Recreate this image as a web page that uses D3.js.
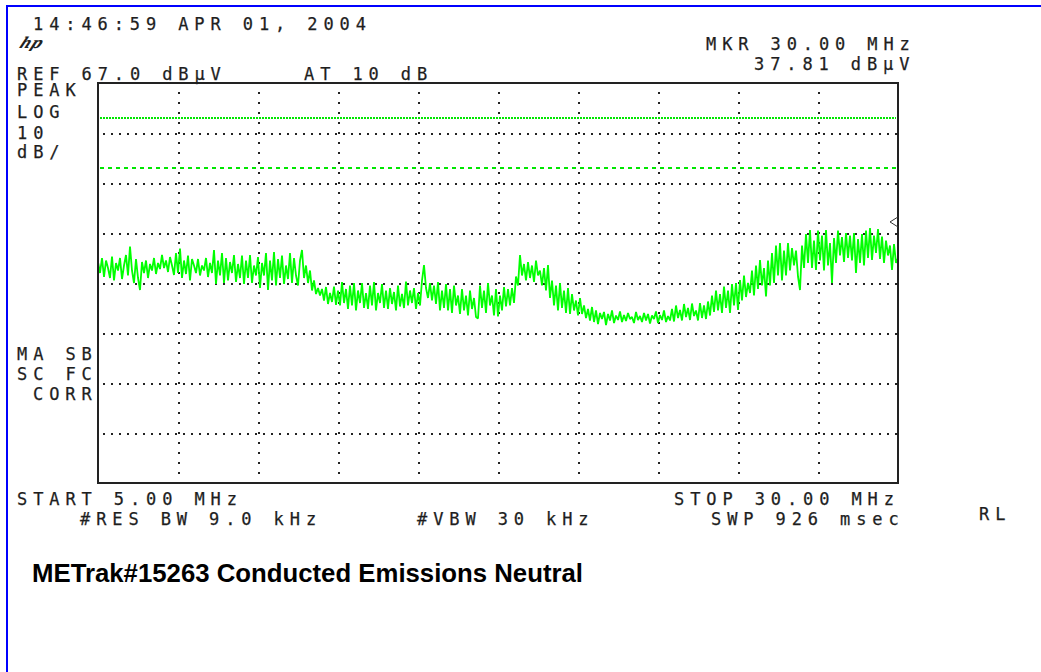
<!DOCTYPE html>
<html>
<head>
<meta charset="utf-8">
<script src="https://cdn.jsdelivr.net/npm/d3@7"></script>
<style>
  body { margin: 0; background: #fff; }
  .hp-text {
    font-family: "DejaVu Sans Mono", monospace;
    font-size: 17px;
    letter-spacing: 5.9px;
    fill: #1e1e1e;
    stroke: #1e1e1e;
    stroke-width: 0.25px;
  }
  .title {
    font-family: "Liberation Sans", Arial, sans-serif;
    font-weight: bold;
    font-size: 25.5px;
    fill: #000;
  }
</style>
</head>
<body>
<svg id="chart" width="1041" height="672"></svg>
<script>
// sweep settings
const startMHz = 5;
const stopMHz = 30;
const refLevel = 67;
const dbPerDiv = 10;
const vDivs = 8;

const freqTicks = [5, 7.5, 10, 12.5, 15, 17.5, 20, 22.5, 25, 27.5, 30];
const levelTicks = [67, 57, 47, 37, 27, 17, 7, -3, -13];

// EN55022 class B limits (quasi-peak / average)
const limitLines = [
  { level: 60, kind: 'dotted' },
  { level: 50, kind: 'dashed' },
];

const marker = { freq: 30, level: 37.81 };

// peak trace in dBuV, 401 sweep points from 5 to 30 MHz (8 per row = 0.5 MHz)
const traceDb = [
  31.2, 29.0, 32.0, 28.2, 31.5, 30.0, 28.0, 32.3,
  27.5, 31.0, 29.5, 32.0, 27.8, 30.5, 32.6, 28.5,
  34.3, 29.5, 27.0, 31.8, 28.0, 25.6, 31.2, 29.0,
  31.5, 28.0, 30.8, 29.5, 32.0, 28.8, 31.0, 29.8,
  32.6, 30.0, 31.5, 29.2, 32.2, 30.5, 28.6, 33.0,
  29.0, 33.9, 28.0, 31.5, 28.8, 32.5, 27.5, 31.8,
  30.5, 29.0, 31.8, 28.5, 30.5, 29.5, 32.0, 28.2,
  31.0, 29.0, 33.6, 26.8, 31.5, 28.5, 33.0, 27.0,
  32.0, 27.5, 31.2, 29.0, 32.6, 27.2, 30.8, 28.0,
  32.5, 26.8, 31.5, 28.0, 32.6, 27.0, 30.5, 28.5,
  32.2, 26.0, 31.0, 28.5, 33.0, 25.6, 31.5, 27.5,
  33.2, 26.5, 31.8, 28.0, 32.5, 26.8, 30.5, 27.8,
  33.0, 27.0, 32.0, 28.5, 26.5, 31.5, 33.6, 28.0,
  30.5, 27.0, 29.5, 25.5, 27.5, 24.8, 26.0, 24.5,
  25.8, 23.5, 26.2, 22.8, 25.0, 23.2, 26.3, 22.6,
  25.5, 22.5, 27.2, 23.0, 25.8, 21.8, 26.5, 22.5,
  27.0, 21.5, 25.5, 23.0, 27.0, 22.0, 25.0, 21.8,
  26.5, 22.5, 27.2, 21.5, 25.0, 23.0, 26.8, 22.0,
  25.5, 21.8, 26.0, 22.8, 25.2, 21.5, 26.5, 22.3,
  24.8, 22.0, 27.3, 22.5, 25.5, 23.0, 26.0, 21.8,
  25.0, 22.5, 27.5, 30.6, 26.0, 24.0, 27.0, 23.5,
  26.5, 22.8, 27.2, 21.5, 25.5, 22.0, 26.8, 21.5,
  25.8, 21.0, 26.5, 22.5, 24.5, 20.8, 25.8, 21.5,
  24.5, 20.5, 25.5, 21.8, 24.0, 20.2, 19.9, 26.5,
  22.0, 25.5, 21.0, 27.0, 22.5, 24.5, 20.5, 25.8,
  20.3, 24.5, 21.5, 26.2, 22.3, 25.8, 22.5, 26.0,
  23.0, 28.3, 26.5, 32.6, 28.5, 30.8, 27.5, 31.2,
  28.0, 30.5, 27.2, 31.5, 28.5, 29.5, 26.5, 30.0,
  25.5, 30.6, 24.0, 27.5, 22.5, 26.5, 21.5, 27.0,
  22.0, 25.5, 21.0, 26.0, 20.8, 24.8, 21.5, 23.5,
  20.5, 24.0, 20.8, 22.5, 20.0, 21.8, 19.5, 22.2,
  19.2, 21.5, 18.8, 21.0, 19.8, 21.2, 18.6, 20.8,
  19.5, 21.5, 19.0, 20.5, 19.6, 21.3, 19.2, 20.6,
  19.4, 21.0, 19.8, 20.2, 19.0, 21.2, 19.6, 20.4,
  19.2, 21.0, 19.5, 20.8, 18.9, 20.5, 19.8, 21.3,
  19.0, 20.6, 19.6, 21.5, 19.2, 20.4, 19.5, 21.8,
  19.3, 22.5, 20.0, 21.6, 19.5, 22.8, 20.2, 22.0,
  19.6, 22.9, 20.4, 21.5, 19.5, 23.0, 20.0, 22.5,
  19.8, 23.3, 20.5, 24.5, 21.2, 25.5, 21.5, 24.8,
  21.0, 26.3, 22.0, 25.5, 21.0, 26.8, 22.5, 27.0,
  21.6, 27.6, 23.5, 28.5, 24.2, 27.0, 25.0, 29.5,
  24.5, 30.5, 25.8, 31.6, 26.5, 30.0, 24.3, 31.5,
  26.5, 33.0, 27.0, 34.5, 28.5, 35.0, 27.5, 33.5,
  28.5, 35.0, 29.5, 34.0, 30.5, 33.5, 28.3, 25.6,
  34.5, 30.0, 36.8, 31.0, 37.6, 30.0, 35.5, 29.6,
  37.5, 31.5, 36.5, 29.5, 37.6, 30.5, 35.0, 27.0,
  36.0, 31.0, 37.5, 32.5, 36.2, 31.2, 37.0, 32.0,
  36.5, 31.5, 37.0, 29.0, 35.8, 31.0, 36.8, 30.5,
  37.5, 32.0, 38.0, 31.6, 36.5, 33.0, 37.8, 31.8,
  36.3, 31.0, 35.5, 32.5, 34.5, 29.6, 34.8, 31.0,
  32.0
];

const plot = { left: 98, top: 83, width: 800, height: 400 };
const svg = d3.select('#chart');

const xScale = d3.scaleLinear()
  .domain([startMHz, stopMHz])
  .range([plot.left, plot.left + plot.width]);

const yScale = d3.scaleLinear()
  .domain([refLevel - dbPerDiv * vDivs, refLevel])
  .range([plot.top + plot.height, plot.top]);

// window border (only the top/left edges are in frame)
svg.append('line')
  .attr('x1', 6).attr('y1', 6).attr('x2', 1041).attr('y2', 6)
  .attr('stroke', '#0000ff').attr('stroke-width', 2);
svg.append('line')
  .attr('x1', 7).attr('y1', 5).attr('x2', 7).attr('y2', 672)
  .attr('stroke', '#0000ff').attr('stroke-width', 2);

// dotted graticule from the axes
const gx = svg.append('g')
  .attr('transform', `translate(0,${plot.top + plot.height})`)
  .call(d3.axisBottom(xScale)
    .tickValues(freqTicks.slice(1, -1))
    .tickSize(-plot.height)
    .tickFormat(''));

const gy = svg.append('g')
  .attr('transform', `translate(${plot.left},0)`)
  .call(d3.axisLeft(yScale)
    .tickValues(levelTicks.slice(1, -1))
    .tickSize(-plot.width)
    .tickFormat(''));

gx.select('.domain').remove();
gy.select('.domain').remove();

gx.selectAll('.tick line')
  .attr('stroke', '#222')
  .attr('stroke-width', 2)
  .attr('stroke-dasharray', '2 8')
  .attr('stroke-dashoffset', 1)
  .attr('shape-rendering', 'crispEdges');

gy.selectAll('.tick line')
  .attr('stroke', '#222')
  .attr('stroke-width', 2)
  .attr('stroke-dasharray', '2 6')
  .attr('stroke-dashoffset', -5)
  .attr('shape-rendering', 'crispEdges');

// limit lines
svg.append('g')
  .selectAll('line')
  .data(limitLines)
  .enter()
  .append('line')
  .attr('x1', xScale(startMHz) + 2)
  .attr('x2', xScale(stopMHz) - 2)
  .attr('y1', d => yScale(d.level))
  .attr('y2', d => yScale(d.level))
  .attr('stroke', '#00e600')
  .attr('stroke-width', 2)
  .attr('stroke-dasharray', d => d.kind === 'dotted' ? '1.5 1.5' : '4 4')
  .attr('shape-rendering', 'crispEdges');

// trace
const step = (stopMHz - startMHz) / (traceDb.length - 1);
const tracePoints = traceDb.map((db, i) => ({ freq: startMHz + i * step, db }));

const traceLine = d3.line()
  .x(d => xScale(d.freq))
  .y(d => yScale(d.db));

svg.append('path')
  .datum(tracePoints)
  .attr('d', traceLine)
  .attr('fill', 'none')
  .attr('stroke', '#00ff00')
  .attr('stroke-width', 1.8)
  .attr('stroke-linejoin', 'bevel');

// frame
svg.append('rect')
  .attr('x', plot.left)
  .attr('y', plot.top)
  .attr('width', plot.width)
  .attr('height', plot.height)
  .attr('fill', 'none')
  .attr('stroke', '#222')
  .attr('stroke-width', 2)
  .attr('shape-rendering', 'crispEdges');

// marker: half diamond sitting on the right edge
const mx = xScale(marker.freq);
const my = yScale(marker.level) - 7;
svg.append('path')
  .attr('d', `M${mx},${my - 5}L${mx - 8},${my}L${mx},${my + 5}`)
  .attr('fill', 'none')
  .attr('stroke', '#333')
  .attr('stroke-width', 1);

// annotation text, same layout as the analyzer screen
const annotations = [
  { text: '14:46:59 APR 01, 2004', x: 33, y: 30 },
  { text: 'REF 67.0 dBµV', x: 17, y: 80 },
  { text: 'AT 10 dB', x: 304, y: 80 },
  { text: 'MKR 30.00 MHz', x: 706, y: 50 },
  { text: '37.81 dBµV', x: 754, y: 70 },
  { text: 'PEAK', x: 17, y: 96 },
  { text: 'LOG', x: 17, y: 118 },
  { text: '10', x: 17, y: 139 },
  { text: 'dB/', x: 17, y: 158 },
  { text: 'MA SB', x: 17, y: 360 },
  { text: 'SC FC', x: 17, y: 380 },
  { text: 'CORR', x: 33, y: 400 },
  { text: 'START 5.00 MHz', x: 17, y: 505 },
  { text: '#RES BW 9.0 kHz', x: 80, y: 525 },
  { text: '#VBW 30 kHz', x: 417, y: 525 },
  { text: 'STOP 30.00 MHz', x: 674, y: 505 },
  { text: 'SWP 926 msec', x: 711, y: 525 },
  { text: 'RL', x: 979, y: 520 },
];

svg.append('g')
  .selectAll('text')
  .data(annotations)
  .enter()
  .append('text')
  .attr('class', 'hp-text')
  .attr('x', d => d.x)
  .attr('y', d => d.y)
  .text(d => d.text);

// little hp logo
svg.append('text')
  .attr('x', 19)
  .attr('y', 48)
  .attr('transform', 'skewX(-25) translate(22,0)')
  .style('font-family', '"DejaVu Serif", serif')
  .style('font-style', 'italic')
  .style('font-weight', 'bold')
  .style('font-size', '15px')
  .style('fill', '#222')
  .text('hp');

svg.append('text')
  .attr('class', 'title')
  .attr('x', 32)
  .attr('y', 582)
  .attr('textLength', 551)
  .attr('lengthAdjust', 'spacingAndGlyphs')
  .text('METrak#15263 Conducted Emissions Neutral');
</script>
</body>
</html>
